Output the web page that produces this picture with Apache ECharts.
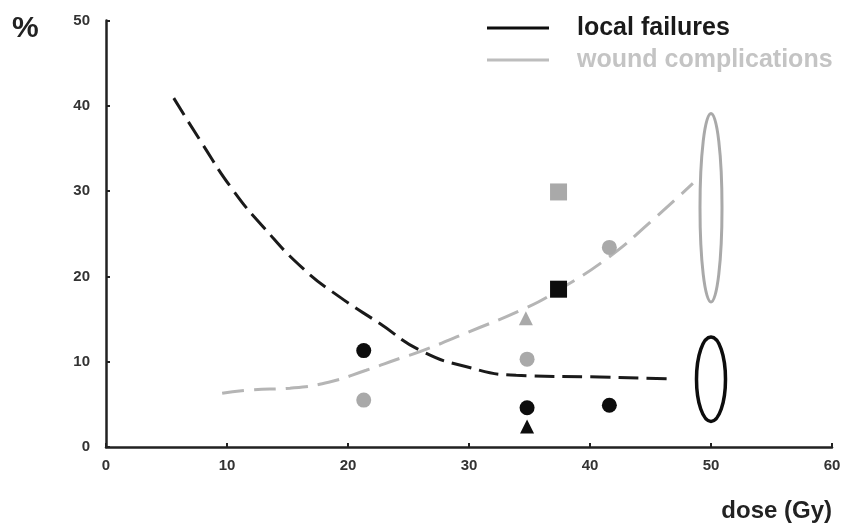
<!DOCTYPE html>
<html>
<head>
<meta charset="utf-8">
<script src="https://cdn.jsdelivr.net/npm/echarts@6/dist/echarts.min.js"></script>
<style>
html,body{margin:0;padding:0;background:#fff;}
#chart{width:845px;height:527px;}
</style>
</head>
<body>
<div id="chart"></div>
<script>
// ---- data ----
const xTicks = [0, 10, 20, 30, 40, 50, 60];
const yTicks = [0, 10, 20, 30, 40, 50];
const legendNames = ['local failures', 'wound complications'];

// fitted curves [dose, %]
const localFailureCurve = [[5.6,40.9],[7.8,35.9],[10.5,30.1],[13,25.8],[16.3,20.9],[19.3,17.6],[22.6,14.5],[26,11.3],[29.8,9.4],[33.9,8.4],[40.8,8.2],[46.7,8.0]];
const woundCurve = [[9.6,6.3],[12,6.7],[15.2,6.9],[18.4,7.6],[21.5,9.0],[24.3,10.4],[26,11.2],[30,13.5],[34.7,16.3],[37.4,18.4],[41.6,22.3],[45,26.4],[48.5,30.9]];

// observed points
const localCircles = [[21.3,11.3],[34.8,4.6],[41.6,4.9]];
const localSquares = [[37.4,18.5]];
const localTriangles = [[34.8,2.4]];
const woundCircles = [[21.3,5.5],[34.8,10.3],[41.6,23.4]];
const woundSquares = [[37.4,29.9]];
const woundTriangles = [[34.7,15.1]];

// ranges at 50 Gy [dose, low, high]
const localRange = [[50, 3.0, 12.9]];
const woundRange = [[50, 17.0, 39.1]];

const BLACK = '#0d0d0d';
const GRAY = '#a9a9a9';

const chart = echarts.init(document.getElementById('chart'), null, {renderer:'canvas'});

function ellipseSeries(data, color, rx, lw){
  return {
    type:'custom',
    data:data,
    silent:true,
    z:4,
    renderItem:function(params, api){
      const x = api.value(0), lo = api.value(1), hi = api.value(2);
      const top = api.coord([x, hi]);
      const bot = api.coord([x, lo]);
      return {
        type:'ellipse',
        shape:{cx:top[0], cy:(top[1]+bot[1])/2, rx:rx, ry:(bot[1]-top[1])/2},
        style:{fill:'none', stroke:color, lineWidth:lw}
      };
    }
  };
}

function scatter(data, symbol, size, color){
  return {type:'scatter', data:data, symbol:symbol, symbolSize:size, z:5, silent:true,
    itemStyle:{color:color, opacity:1}};
}

const option = {
  backgroundColor:'#ffffff',
  animation:false,
  grid:{left:106, right:13, top:20.5, bottom:80, containLabel:false},
  xAxis:{
    type:'value', min:0, max:60, interval:10,
    axisLine:{show:true, onZero:false, lineStyle:{color:'#222', width:2.5}},
    axisTick:{show:true, inside:true, length:4, lineStyle:{color:'#222', width:2}},
    splitLine:{show:false},
    axisLabel:{margin:11, fontFamily:'Liberation Sans, Arial, sans-serif', fontWeight:'bold', fontSize:15, color:'#333',
      formatter:function(v){ return xTicks.indexOf(v) >= 0 ? String(v) : ''; }}
  },
  yAxis:{
    type:'value', min:0, max:50, interval:10,
    axisLine:{show:true, lineStyle:{color:'#222', width:2.5}},
    axisTick:{show:true, inside:true, length:4, lineStyle:{color:'#222', width:2}},
    splitLine:{show:false},
    axisLabel:{margin:16, fontFamily:'Liberation Sans, Arial, sans-serif', fontWeight:'bold', fontSize:15, color:'#333',
      formatter:function(v){ return yTicks.indexOf(v) >= 0 ? String(v) : ''; }}
  },
  graphic:[
    {type:'text', left:12, top:14, style:{text:'%', font:'bold 30px "Liberation Sans", Arial, sans-serif', fill:'#222'}},
    {type:'text', right:13, top:499, style:{text:'dose (Gy)', font:'bold 24px "Liberation Sans", Arial, sans-serif', fill:'#222'}},
    {type:'line', shape:{x1:487, y1:28, x2:549, y2:28}, style:{stroke:BLACK, lineWidth:3}},
    {type:'text', left:577, top:16, style:{text:legendNames[0], font:'bold 25px "Liberation Sans", Arial, sans-serif', fill:'#1a1a1a'}},
    {type:'line', shape:{x1:487, y1:60, x2:549, y2:60}, style:{stroke:'#bdbdbd', lineWidth:3}},
    {type:'text', left:577, top:48, style:{text:legendNames[1], font:'bold 25px "Liberation Sans", Arial, sans-serif', fill:'#c4c4c4'}}
  ],
  series:[
    {name:legendNames[0], type:'line', data:localFailureCurve, smooth:0.5, showSymbol:false, silent:true, z:2,
      lineStyle:{color:'#1a1a1a', width:3, type:[20,8]}},
    {name:legendNames[1], type:'line', data:woundCurve, smooth:0.5, showSymbol:false, silent:true, z:2,
      lineStyle:{color:'#b5b5b5', width:3, type:[22,10]}},
    scatter(woundCircles, 'circle', 15, GRAY),
    scatter(woundSquares, 'rect', 17, GRAY),
    scatter(woundTriangles, 'triangle', 14, GRAY),
    scatter(localCircles, 'circle', 15, BLACK),
    scatter(localSquares, 'rect', 17, BLACK),
    scatter(localTriangles, 'triangle', 14, BLACK),
    ellipseSeries(woundRange, GRAY, 11, 3),
    ellipseSeries(localRange, BLACK, 14.5, 3.5)
  ]
};
chart.setOption(option);
</script>
</body>
</html>
